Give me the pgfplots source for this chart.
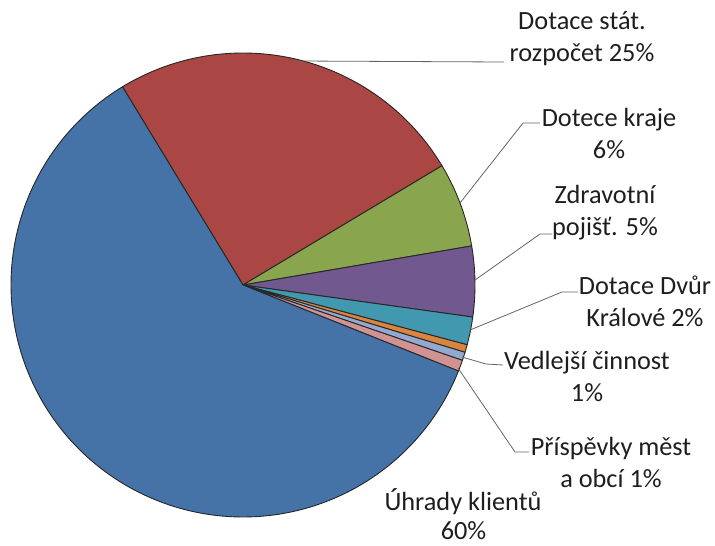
\documentclass[border=0pt]{standalone}
\usepackage{pgfplots}
\usepackage{pgfplotstable}
\pgfplotsset{compat=1.18}
\usepackage{fontspec}
\setmainfont{Carlito}

\definecolor{pc0}{RGB}{170,70,67}   % Dotace stát. rozpočet
\definecolor{pc1}{RGB}{137,165,78}  % Dotece kraje
\definecolor{pc2}{RGB}{113,88,143}  % Zdravotní pojišť.
\definecolor{pc3}{RGB}{65,152,175}  % Dotace Dvůr Králové
\definecolor{pc4}{RGB}{219,132,61}  % (small orange)
\definecolor{pc5}{RGB}{147,169,207} % Vedlejší činnost
\definecolor{pc6}{RGB}{209,147,146} % Příspěvky měst a obcí
\definecolor{pc7}{RGB}{69,114,167}  % Úhrady klientů
\definecolor{txt}{RGB}{30,30,30}
\definecolor{lead}{RGB}{100,100,100}

% share of each slice in percent, clockwise from the red slice
\pgfplotstableread{
value
25.10
5.90
4.90
1.94
0.54
0.58
0.78
60.26
}\piedata

\begin{document}
\begin{tikzpicture}
% cumulative angles (start of the red slice at 121.3 deg, clockwise)
\xdef\cumangle{121.3}
\foreach \i in {0,...,7}{%
  \pgfplotstablegetelem{\i}{value}\of\piedata
  \pgfmathsetmacro\tmpA{\cumangle}%
  \pgfmathsetmacro\tmpB{\cumangle-3.6*\pgfplotsretval}%
  \pgfmathtruncatemacro\tmpN{max(3,3.6*\pgfplotsretval)}%
  \expandafter\xdef\csname pa\i\endcsname{\tmpA}%
  \expandafter\xdef\csname pb\i\endcsname{\tmpB}%
  \expandafter\xdef\csname pn\i\endcsname{\tmpN}%
  \xdef\cumangle{\tmpB}%
}
\begin{axis}[
  hide axis, scale only axis,
  width=715pt, height=546pt,
  xmin=0, xmax=715, ymin=0, ymax=546,
  y dir=reverse, clip=false,
]
\pgfplotsinvokeforeach{0,...,7}{%
  \addplot[fill=pc#1, draw=black!85, line width=0.9pt, line join=round,
    domain=\csname pb#1\endcsname:\csname pa#1\endcsname,
    samples=\csname pn#1\endcsname, variable=\t]
    ({243+232*cos(\t)}, {285-232*sin(\t)}) -- (axis cs:243,285) -- cycle;
}
% leader lines
\draw[lead, line width=0.8pt] (axis cs:297,61) -- (axis cs:504,62);
\draw[lead, line width=0.8pt] (axis cs:460,203) -- (axis cs:523,123) -- (axis cs:540,123);
\draw[lead, line width=0.8pt] (axis cs:475,280) -- (axis cs:540,234) -- (axis cs:552,234);
\draw[lead, line width=0.8pt] (axis cs:470,330) -- (axis cs:562,292) -- (axis cs:578,292);
\draw[lead, line width=0.8pt] (axis cs:462,357) -- (axis cs:486,364) -- (axis cs:503,365);
\draw[lead, line width=0.8pt] (axis cs:458,368) -- (axis cs:515,452) -- (axis cs:529,452);
% labels
\tikzset{lbl/.style={text=txt, align=center, inner sep=0pt,
  font=\fontsize{26.3}{32}\selectfont}}
\node[lbl] at (axis cs:582,38.5) {Dotace stát.\\rozpočet 25\%};
\node[lbl] at (axis cs:609,133) {Dotece kraje\\6\%};
\node[lbl] at (axis cs:605,212.5) {Zdravotní\\pojišť. 5\%};
\node[lbl] at (axis cs:645,301) {Dotace Dvůr\\Králové 2\%};
\node[lbl] at (axis cs:587,376.5) {Vedlejší činnost\\1\%};
\node[lbl] at (axis cs:611,462.5) {Příspěvky měst\\a obcí 1\%};
\node[lbl, anchor=base] at (axis cs:463,510) {Úhrady klientů};
\node[lbl, anchor=base] at (axis cs:463.5,539.5) {60\%};
\end{axis}
\path (current axis.south west) rectangle (current axis.north east);
\end{tikzpicture}
\end{document}
